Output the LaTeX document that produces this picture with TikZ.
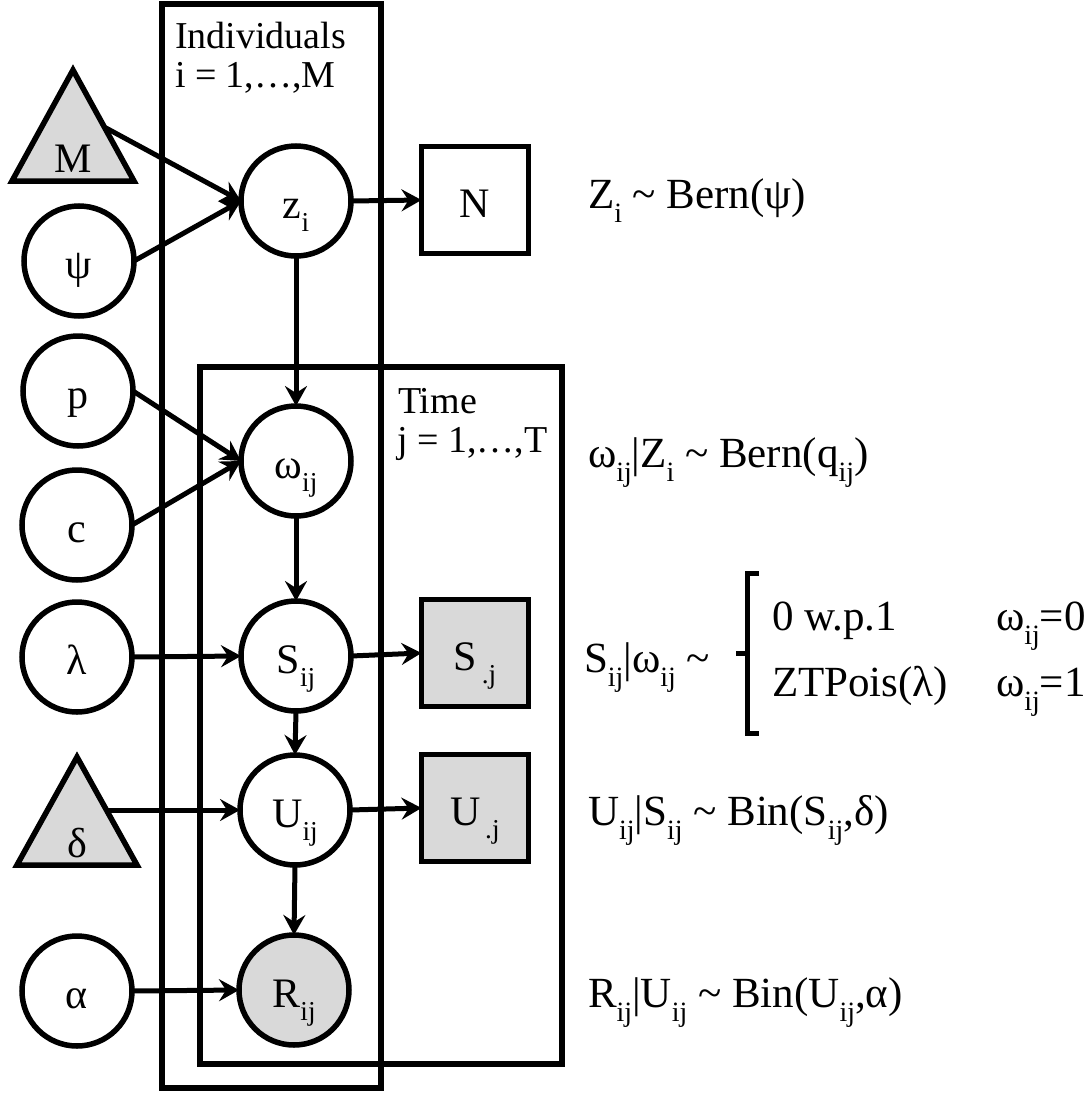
\documentclass[tikz,border=0pt]{standalone}
\usepackage{fontspec}
\setmainfont{Liberation Serif}
\usepackage{graphicx}
\usetikzlibrary{arrows.meta}
\newcommand\lo[1]{\raisebox{-0.33em}{\scalebox{0.65}{#1}}}
\begin{document}
\begin{tikzpicture}[x=1pt,y=-1pt,
  every node/.style={inner sep=0pt, outer sep=0pt},
  lab/.style={font=\fontsize{42}{48}\selectfont, text height=34pt, text depth=0pt},
  var/.style={lab, circle, draw, line width=5.5pt, fill=white, minimum size=110pt},
  obs/.style={var, fill=black!15},
  sq/.style={lab, rectangle, draw, line width=5.5pt, fill=white, minimum size=107pt},
  sqobs/.style={sq, fill=black!15},
  tri/.style={draw, line width=5.5pt, fill=black!15, line join=miter},
  plate/.style={draw, line width=5.5pt},
  platelab/.style={font=\fontsize{38}{44}\selectfont, anchor=base west},
  eq/.style={font=\fontsize{43}{50}\selectfont, anchor=base west},
  arr/.style={-{Stealth[length=20pt,width=22pt,inset=7pt]}, line width=5pt, line join=round},
  brace/.style={draw, line width=5pt, line join=miter}
]
\useasboundingbox (0,0) rectangle (1092,1095);
% plates
\draw[plate] (162,4) rectangle (381,1088);
\draw[plate] (200,367) rectangle (562,1064);
\node[platelab] (indl1) at (175,48) {Individuals};
\node[platelab] (indl2) at (175,87) {i = 1,…,M};
\node[platelab] (timel1) at (398,413) {Time};
\node[platelab] (timel2) at (397,452) {j = 1,…,T};
% triangles
\draw[tri] (12,181) -- (73,70) -- (134,181) -- cycle;
\node[font=\fontsize{42}{48}\selectfont, anchor=base] (M) at (73,172) {M};
\coordinate (Mout) at (106,128);
\draw[tri] (17,865) -- (77,757) -- (137,865) -- cycle;
\node[font=\fontsize{42}{48}\selectfont, anchor=base] (delta) at (77,857) {δ};
\coordinate (dout) at (108,810);
% left column
\node[var] (psi) at (79,261) {ψ};
\node[var] (p) at (78,391) {p};
\node[var] (c) at (77,525) {c};
\node[var] (lam) at (77,657) {λ};
\node[var] (alpha) at (77,991) {α};
% middle column
\node[var] (z) at (296,201) {z\lo{i}};
\node[var] (w) at (296,461) {ω\lo{ij}};
\node[var] (S) at (296,656) {S\lo{ij}};
\node[var] (U) at (295,810) {U\lo{ij}};
\node[obs] (R) at (294,990) {R\lo{ij}};
% right squares
\node[sq] (N) at (475,200) {N};
\node[sqobs] (Sj) at (475,653) {S\lo{\,.j}};
\node[sqobs] (Uj) at (475,808) {U\lo{\,.j}};
% connectors
\draw[arr] (Mout) -- (z.west);
\draw[arr] (psi.east) -- (z.west);
\draw[arr] (z.east) -- (N.west);
\draw[arr] (z.south) -- (w.north);
\draw[arr] (p.east) -- (w.west);
\draw[arr] (c.east) -- (w.west);
\draw[arr] (w.south) -- (S.north);
\draw[arr] (lam.east) -- (S.west);
\draw[arr] (S.east) -- (Sj.west);
\draw[arr] (S.south) -- (U.north);
\draw[arr] (dout) -- (U.west);
\draw[arr] (U.east) -- (Uj.west);
\draw[arr] (U.south) -- (R.north);
\draw[arr] (alpha.east) -- (R.west);
% equations
\node[eq] (eqZ) at (588,208) {Z\lo{i} \textasciitilde{} Bern(ψ)};
\node[eq] (eqW) at (588,467) {ω\lo{ij}|Z\lo{i} \textasciitilde{} Bern(q\lo{ij})};
\node[eq] (eqS) at (584,672) {S\lo{ij}|ω\lo{ij} \textasciitilde};
\coordinate (brT) at (759,573);
\coordinate (brB) at (759,733);
\coordinate (brM) at (736,653);
\draw[brace] (brT) -- (747,573) -- (747,733) -- (brB) (747,653) -- (brM);
\node[eq] (c1a) at (772,630) {0 w.p.1};
\node[eq] (c1b) at (996,630) {ω\lo{ij}=0};
\node[eq] (c2a) at (772,696) {ZTPois(λ)};
\node[eq] (c2b) at (996,696) {ω\lo{ij}=1};
\node[eq] (eqU) at (588,825) {U\lo{ij}|S\lo{ij} \textasciitilde{} Bin(S\lo{ij},δ)};
\node[eq] (eqR) at (588,1007) {R\lo{ij}|U\lo{ij} \textasciitilde{} Bin(U\lo{ij},α)};
\end{tikzpicture}
\end{document}
